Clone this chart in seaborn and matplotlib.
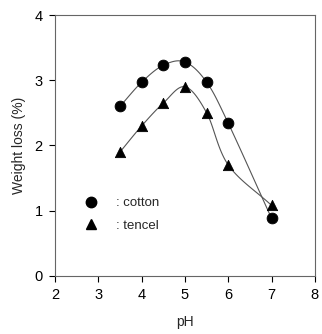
import numpy as np
import pandas as pd
import matplotlib
matplotlib.use("Agg")
import matplotlib.pyplot as plt
import seaborn as sns
from matplotlib.lines import Line2D

ph_cotton = [3.5, 4.0, 4.5, 5.0, 5.5, 6.0, 7.0]
loss_cotton = [2.60, 2.97, 3.23, 3.28, 2.97, 2.34, 0.88]
ph_tencel = [3.5, 4.0, 4.5, 5.0, 5.5, 6.0, 7.0]
loss_tencel = [1.90, 2.30, 2.65, 2.90, 2.50, 1.70, 1.08]
x_ticks = [2, 3, 4, 5, 6, 7, 8]
y_ticks = [0, 1, 2, 3, 4]

sns.set_style("white")
plt.rcParams['font.family'] = ['Liberation Sans', 'DejaVu Sans']

fig = plt.figure(figsize=(3.22, 3.34), dpi=100)
ax = fig.add_axes([0.171, 0.174, 0.807, 0.781])

def smooth(x, y, n=20):
    # Catmull-Rom spline through the data points (line drawing only)
    x = np.asarray(x, float); y = np.asarray(y, float)
    P = np.column_stack([x, y])
    P = np.vstack([2 * P[0] - P[1], P, 2 * P[-1] - P[-2]])
    out = []
    for i in range(1, len(P) - 2):
        p0, p1, p2, p3 = P[i - 1], P[i], P[i + 1], P[i + 2]
        t = np.linspace(0, 1, n, endpoint=False)[:, None]
        pts = 0.5 * ((2 * p1) + (-p0 + p2) * t + (2 * p0 - 5 * p1 + 4 * p2 - p3) * t ** 2
                     + (-p0 + 3 * p1 - 3 * p2 + p3) * t ** 3)
        out.append(pts)
    out.append(P[-2][None, :])
    out = np.vstack(out)
    return out[:, 0], out[:, 1]

for xs, ys in [(ph_cotton, loss_cotton), (ph_tencel, loss_tencel)]:
    sx, sy = smooth(xs, ys)
    ax.plot(sx, sy, color='#555555', lw=0.8, zorder=1)

df_c = pd.DataFrame({'pH': ph_cotton, 'loss': loss_cotton})
df_t = pd.DataFrame({'pH': ph_tencel, 'loss': loss_tencel})
sns.scatterplot(data=df_c, x='pH', y='loss', ax=ax, marker='o', color='black', s=60,
                edgecolor='black', zorder=3)
sns.scatterplot(data=df_t, x='pH', y='loss', ax=ax, marker='^', color='black', s=55,
                edgecolor='black', zorder=3)

ax.set_xlim(2, 8)
ax.set_ylim(0, 4)
ax.set_xticks(x_ticks)
ax.set_yticks(y_ticks)
ax.tick_params(direction='out', length=4, width=0.8, labelsize=10.5, colors='black',
               bottom=True, left=True, pad=5)
for s in ax.spines.values():
    s.set_color('#666666')
    s.set_linewidth(0.8)
ax.set_xlabel('pH', fontsize=10, labelpad=9)
ax.set_ylabel('Weight loss (%)', fontsize=10, labelpad=6)

handles = [Line2D([], [], ls='none', marker='o', color='black', markersize=7.5),
           Line2D([], [], ls='none', marker='^', color='black', markersize=7.5)]
ax.legend(handles, [': cotton', ': tencel'], loc='center left', bbox_to_anchor=(0.04, 0.235),
          frameon=False, fontsize=9.5, handletextpad=0.9, labelspacing=0.8)

fig.savefig('out.png', dpi=100)
